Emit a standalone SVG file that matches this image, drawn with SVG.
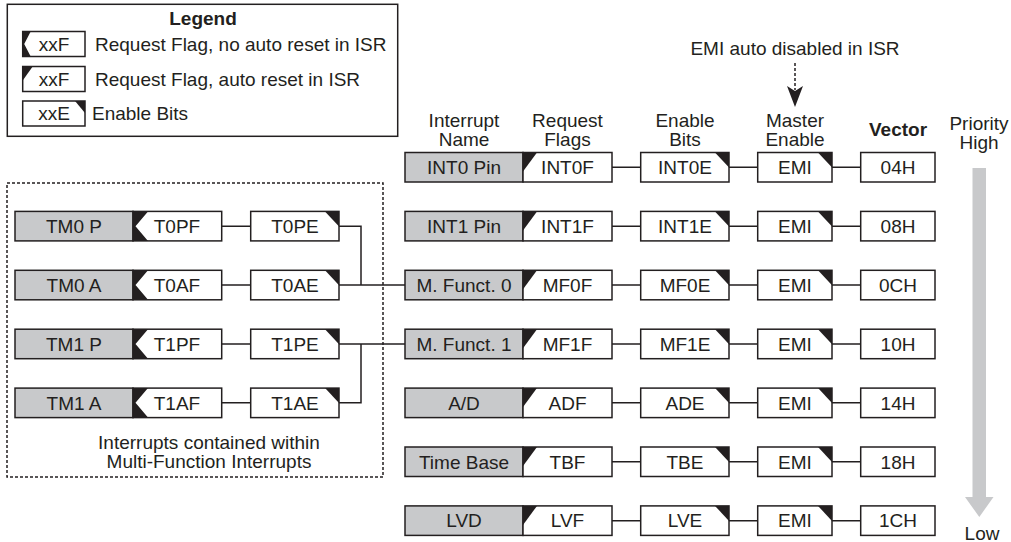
<svg xmlns="http://www.w3.org/2000/svg" xmlns:xlink="http://www.w3.org/1999/xlink" width="1011" height="542" viewBox="0 0 1011 542">
<style>
.t{font-family:"Liberation Sans",Arial,sans-serif;font-size:19px;fill:#231f20;text-anchor:middle}
.l{text-anchor:start}
.b{font-weight:bold}
.box{fill:#fff;stroke:#231f20;stroke-width:1.5}
.grey{fill:#c8c9cb;stroke:#231f20;stroke-width:1.5}
.blk{fill:#231f20;stroke:none}
.ln{fill:none;stroke:#231f20;stroke-width:1.5}
.dash{fill:none;stroke:#231f20;stroke-width:1.5;stroke-dasharray:3 2}
</style>
<defs>
<path id="eTri" class="blk" d="M-14,0H0V15Z"/>
<path id="fTri" class="blk" d="M0,0H14L0,19Z"/>
<path id="nNotch" class="blk" d="M0,0H15L2.5,14.75L15,29.5H0Z"/>
<path id="lgF" class="blk" d="M0,0H8L1.5,12.5L8,25H0Z"/>
<path id="lgA" class="blk" d="M0,0H10L0,14Z"/>
<path id="lgE" class="blk" d="M-10,0H0V12Z"/>
</defs>

<g id="legend">
<rect x="7.3" y="4.3" width="390.4" height="132" class="box"/>
<text x="203" y="25" class="t b">Legend</text>
<rect x="22.7" y="31.5" width="62.3" height="25" class="box"/>
<use xlink:href="#lgF" x="22.7" y="31.5"/>
<text x="54" y="50.8" class="t">xxF</text>
<text x="95" y="50.8" class="t l">Request Flag, no auto reset in ISR</text>
<rect x="22.7" y="66.5" width="62.3" height="25" class="box"/>
<use xlink:href="#lgA" x="22.7" y="66.5"/>
<text x="54" y="85.8" class="t">xxF</text>
<text x="95" y="85.8" class="t l">Request Flag, auto reset in ISR</text>
<rect x="22.7" y="101" width="62.3" height="25" class="box"/>
<use xlink:href="#lgE" x="85" y="101"/>
<text x="54" y="120.3" class="t">xxE</text>
<text x="92" y="120.3" class="t l">Enable Bits</text>
</g>

<g id="headers">
<text x="795" y="55" class="t">EMI auto disabled in ISR</text>
<line x1="795" y1="63" x2="795" y2="90" class="dash"/>
<path d="M787,86L795,91L803,86L795,107Z" class="blk"/>
<text x="464" y="127" class="t">Interrupt</text>
<text x="464" y="146" class="t">Name</text>
<text x="567.5" y="127" class="t">Request</text>
<text x="567.5" y="146" class="t">Flags</text>
<text x="685" y="127" class="t">Enable</text>
<text x="685" y="146" class="t">Bits</text>
<text x="795" y="127" class="t">Master</text>
<text x="795" y="146" class="t">Enable</text>
<text x="898" y="136" class="t b">Vector</text>
<text x="979" y="130" class="t">Priority</text>
<text x="979" y="149" class="t">High</text>
<text x="982" y="540" class="t">Low</text>
</g>

<g id="priority-arrow">
<path d="M972.5,168H986V497H993.5L979.3,517L965,497H972.5Z" fill="#c8c9cb"/>
</g>

<g id="mf-group">
<rect x="7" y="183" width="376" height="294" class="dash"/>
<text x="209" y="449" class="t">Interrupts contained within</text>
<text x="209" y="468" class="t">Multi-Function Interrupts</text>
</g>

<g id="connectors">
<path class="ln" d="M612,167.25H640.7M729,167.25H757.7M832,167.25H860.7"/>
<path class="ln" d="M612,226.15H640.7M729,226.15H757.7M832,226.15H860.7"/>
<path class="ln" d="M612,285.05H640.7M729,285.05H757.7M832,285.05H860.7"/>
<path class="ln" d="M612,343.95H640.7M729,343.95H757.7M832,343.95H860.7"/>
<path class="ln" d="M612,402.85H640.7M729,402.85H757.7M832,402.85H860.7"/>
<path class="ln" d="M612,461.75H640.7M729,461.75H757.7M832,461.75H860.7"/>
<path class="ln" d="M612,520.65H640.7M729,520.65H757.7M832,520.65H860.7"/>
<path class="ln" d="M221.7,226.15H250.7M221.7,285.05H250.7M221.7,343.95H250.7M221.7,402.85H250.7"/>
<path class="ln" d="M339,226.15H361V285.05"/>
<path class="ln" d="M339,285.05H405"/>
<path class="ln" d="M339,343.95H405"/>
<path class="ln" d="M339,402.85H361V343.95"/>
</g>

<g id="row-int0">
<rect x="405" y="152.5" width="118" height="29.5" class="grey"/><text x="464" y="174" class="t">INT0 Pin</text>
<rect x="523" y="152.5" width="89" height="29.5" class="box"/><use xlink:href="#fTri" x="523" y="152.5"/><text x="567.5" y="174" class="t">INT0F</text>
<rect x="640.7" y="152.5" width="88.3" height="29.5" class="box"/><use xlink:href="#eTri" x="729" y="152.5"/><text x="685" y="174" class="t">INT0E</text>
<rect x="757.7" y="152.5" width="74.3" height="29.5" class="box"/><use xlink:href="#eTri" x="832" y="152.5"/><text x="795" y="174" class="t">EMI</text>
<rect x="860.7" y="152.5" width="74.3" height="29.5" class="box"/><text x="898" y="174" class="t">04H</text>
</g>
<g id="row-int1">
<rect x="405" y="211.4" width="118" height="29.5" class="grey"/><text x="464" y="232.9" class="t">INT1 Pin</text>
<rect x="523" y="211.4" width="89" height="29.5" class="box"/><use xlink:href="#fTri" x="523" y="211.4"/><text x="567.5" y="232.9" class="t">INT1F</text>
<rect x="640.7" y="211.4" width="88.3" height="29.5" class="box"/><use xlink:href="#eTri" x="729" y="211.4"/><text x="685" y="232.9" class="t">INT1E</text>
<rect x="757.7" y="211.4" width="74.3" height="29.5" class="box"/><use xlink:href="#eTri" x="832" y="211.4"/><text x="795" y="232.9" class="t">EMI</text>
<rect x="860.7" y="211.4" width="74.3" height="29.5" class="box"/><text x="898" y="232.9" class="t">08H</text>
</g>
<g id="row-mf0">
<rect x="405" y="270.3" width="118" height="29.5" class="grey"/><text x="464" y="291.8" class="t">M. Funct. 0</text>
<rect x="523" y="270.3" width="89" height="29.5" class="box"/><use xlink:href="#fTri" x="523" y="270.3"/><text x="567.5" y="291.8" class="t">MF0F</text>
<rect x="640.7" y="270.3" width="88.3" height="29.5" class="box"/><use xlink:href="#eTri" x="729" y="270.3"/><text x="685" y="291.8" class="t">MF0E</text>
<rect x="757.7" y="270.3" width="74.3" height="29.5" class="box"/><use xlink:href="#eTri" x="832" y="270.3"/><text x="795" y="291.8" class="t">EMI</text>
<rect x="860.7" y="270.3" width="74.3" height="29.5" class="box"/><text x="898" y="291.8" class="t">0CH</text>
</g>
<g id="row-mf1">
<rect x="405" y="329.2" width="118" height="29.5" class="grey"/><text x="464" y="350.7" class="t">M. Funct. 1</text>
<rect x="523" y="329.2" width="89" height="29.5" class="box"/><use xlink:href="#fTri" x="523" y="329.2"/><text x="567.5" y="350.7" class="t">MF1F</text>
<rect x="640.7" y="329.2" width="88.3" height="29.5" class="box"/><use xlink:href="#eTri" x="729" y="329.2"/><text x="685" y="350.7" class="t">MF1E</text>
<rect x="757.7" y="329.2" width="74.3" height="29.5" class="box"/><use xlink:href="#eTri" x="832" y="329.2"/><text x="795" y="350.7" class="t">EMI</text>
<rect x="860.7" y="329.2" width="74.3" height="29.5" class="box"/><text x="898" y="350.7" class="t">10H</text>
</g>
<g id="row-ad">
<rect x="405" y="388.1" width="118" height="29.5" class="grey"/><text x="464" y="409.6" class="t">A/D</text>
<rect x="523" y="388.1" width="89" height="29.5" class="box"/><use xlink:href="#fTri" x="523" y="388.1"/><text x="567.5" y="409.6" class="t">ADF</text>
<rect x="640.7" y="388.1" width="88.3" height="29.5" class="box"/><use xlink:href="#eTri" x="729" y="388.1"/><text x="685" y="409.6" class="t">ADE</text>
<rect x="757.7" y="388.1" width="74.3" height="29.5" class="box"/><use xlink:href="#eTri" x="832" y="388.1"/><text x="795" y="409.6" class="t">EMI</text>
<rect x="860.7" y="388.1" width="74.3" height="29.5" class="box"/><text x="898" y="409.6" class="t">14H</text>
</g>
<g id="row-tb">
<rect x="405" y="447" width="118" height="29.5" class="grey"/><text x="464" y="468.5" class="t">Time Base</text>
<rect x="523" y="447" width="89" height="29.5" class="box"/><use xlink:href="#fTri" x="523" y="447"/><text x="567.5" y="468.5" class="t">TBF</text>
<rect x="640.7" y="447" width="88.3" height="29.5" class="box"/><use xlink:href="#eTri" x="729" y="447"/><text x="685" y="468.5" class="t">TBE</text>
<rect x="757.7" y="447" width="74.3" height="29.5" class="box"/><use xlink:href="#eTri" x="832" y="447"/><text x="795" y="468.5" class="t">EMI</text>
<rect x="860.7" y="447" width="74.3" height="29.5" class="box"/><text x="898" y="468.5" class="t">18H</text>
</g>
<g id="row-lvd">
<rect x="405" y="505.9" width="118" height="29.5" class="grey"/><text x="464" y="527.4" class="t">LVD</text>
<rect x="523" y="505.9" width="89" height="29.5" class="box"/><use xlink:href="#fTri" x="523" y="505.9"/><text x="567.5" y="527.4" class="t">LVF</text>
<rect x="640.7" y="505.9" width="88.3" height="29.5" class="box"/><use xlink:href="#eTri" x="729" y="505.9"/><text x="685" y="527.4" class="t">LVE</text>
<rect x="757.7" y="505.9" width="74.3" height="29.5" class="box"/><use xlink:href="#eTri" x="832" y="505.9"/><text x="795" y="527.4" class="t">EMI</text>
<rect x="860.7" y="505.9" width="74.3" height="29.5" class="box"/><text x="898" y="527.4" class="t">1CH</text>
</g>

<g id="row-tm0p">
<rect x="15" y="211.4" width="118" height="29.5" class="grey"/><text x="74" y="232.9" class="t">TM0 P</text>
<rect x="133" y="211.4" width="88.7" height="29.5" class="box"/><use xlink:href="#nNotch" x="133" y="211.4"/><text x="177" y="232.9" class="t">T0PF</text>
<rect x="250.7" y="211.4" width="88.3" height="29.5" class="box"/><use xlink:href="#eTri" x="339" y="211.4"/><text x="295" y="232.9" class="t">T0PE</text>
</g>
<g id="row-tm0a">
<rect x="15" y="270.3" width="118" height="29.5" class="grey"/><text x="74" y="291.8" class="t">TM0 A</text>
<rect x="133" y="270.3" width="88.7" height="29.5" class="box"/><use xlink:href="#nNotch" x="133" y="270.3"/><text x="177" y="291.8" class="t">T0AF</text>
<rect x="250.7" y="270.3" width="88.3" height="29.5" class="box"/><use xlink:href="#eTri" x="339" y="270.3"/><text x="295" y="291.8" class="t">T0AE</text>
</g>
<g id="row-tm1p">
<rect x="15" y="329.2" width="118" height="29.5" class="grey"/><text x="74" y="350.7" class="t">TM1 P</text>
<rect x="133" y="329.2" width="88.7" height="29.5" class="box"/><use xlink:href="#nNotch" x="133" y="329.2"/><text x="177" y="350.7" class="t">T1PF</text>
<rect x="250.7" y="329.2" width="88.3" height="29.5" class="box"/><use xlink:href="#eTri" x="339" y="329.2"/><text x="295" y="350.7" class="t">T1PE</text>
</g>
<g id="row-tm1a">
<rect x="15" y="388.1" width="118" height="29.5" class="grey"/><text x="74" y="409.6" class="t">TM1 A</text>
<rect x="133" y="388.1" width="88.7" height="29.5" class="box"/><use xlink:href="#nNotch" x="133" y="388.1"/><text x="177" y="409.6" class="t">T1AF</text>
<rect x="250.7" y="388.1" width="88.3" height="29.5" class="box"/><use xlink:href="#eTri" x="339" y="388.1"/><text x="295" y="409.6" class="t">T1AE</text>
</g>
</svg>
